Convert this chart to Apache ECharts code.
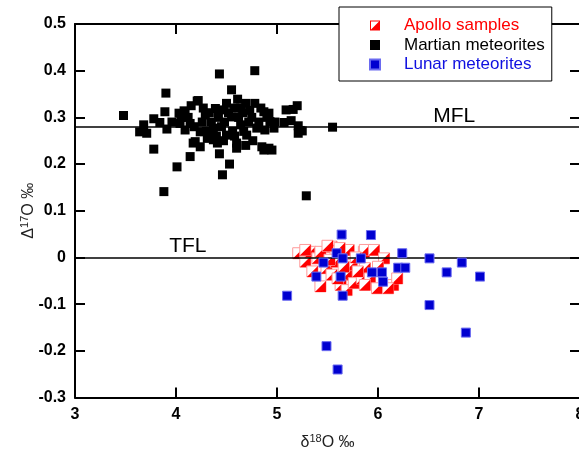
<!DOCTYPE html>
<html><head><meta charset="utf-8">
<script src="https://cdn.jsdelivr.net/npm/echarts@6/dist/echarts.min.js"></script>
<style>html,body{margin:0;padding:0;background:#fff}#c{width:579px;height:450px}</style>
</head><body><div id="c"></div>
<script>
const xTicks = [3, 4, 5, 6, 7, 8];
const yTicks = [-0.3, -0.2, -0.1, 0, 0.1, 0.2, 0.3, 0.4, 0.5];
const seriesNames = ['Apollo samples', 'Martian meteorites', 'Lunar meteorites'];
const refLines = [['MFL', 0.282], ['TFL', 0]];
const refLabels = [[6.755, 0.303, 'MFL'], [4.117, 0.025, 'TFL']];

const martian = [
[3.48,0.304],[4.43,0.393],[4.78,0.400],[3.90,0.352],[4.55,0.359],[4.61,0.339],[4.22,0.336],[3.89,0.312],
[3.68,0.284],[3.64,0.269],[3.71,0.266],[3.78,0.297],[3.91,0.275],[3.78,0.232],[4.14,0.216],[4.01,0.194],
[3.88,0.141],[4.43,0.222],[4.53,0.200],[4.46,0.177],[4.69,0.240],[4.60,0.234],[4.87,0.230],[4.95,0.230],
[5.29,0.132],[5.55,0.279],[5.09,0.316],[5.20,0.325],[5.16,0.317],[5.21,0.282],[5.25,0.271],[5.21,0.266],
[5.07,0.289],[5.14,0.293],[4.17,0.245],[4.24,0.237],[4.31,0.255],[4.37,0.252],[4.21,0.335],[4.08,0.314],
[4.39,0.319],[4.47,0.316],[4.69,0.330],[4.78,0.330],[4.87,0.312],[4.29,0.305],[4.55,0.301],[4.14,0.287],
[4.64,0.284],[4.37,0.277],[4.80,0.277],[4.24,0.269],[4.50,0.262],[4.70,0.262],[4.19,0.248],[4.41,0.245],
[4.60,0.245],[4.85,0.237],[3.84,0.289],[4.03,0.309],[4.09,0.312],[4.04,0.287],[4.09,0.273],[4.92,0.309],
[4.93,0.291],[4.88,0.273],[4.97,0.277],[5.23,0.272],[4.92,0.234],
[4.12,0.300],[4.18,0.280],[4.26,0.290],[4.33,0.310],[4.35,0.290],[4.42,0.300],[4.45,0.280],[4.48,0.290],
[4.52,0.310],[4.58,0.320],[4.62,0.300],[4.66,0.310],[4.72,0.290],[4.75,0.300],[4.82,0.290],[4.84,0.320],
[4.90,0.300],[4.98,0.290],[4.30,0.270],[4.40,0.260],[4.56,0.270],[4.67,0.270],[4.76,0.250],[4.27,0.320],
[4.50,0.330],[4.64,0.320],[4.73,0.315],[4.05,0.300],[3.96,0.290],[4.15,0.325],[4.35,0.265],[4.47,0.250],
[4.58,0.260]
];

const apollo = [
[5.21,0.009],[5.28,-0.009],[5.33,0.012],[5.40,-0.002],[5.43,0.012],[5.54,0.023],[5.58,0.012],[5.49,-0.023],
[5.54,-0.037],[5.69,-0.037],[5.63,-0.059],[5.43,-0.062],[5.69,-0.070],[5.76,-0.055],[5.84,-0.045],[5.86,0.012],
[5.71,0.016],[5.74,-0.016],[5.28,0.016],[5.58,-0.009],[5.87,0.016],[5.96,0.016],[6.06,-0.002],[5.87,-0.023],
[5.92,-0.045],[5.87,-0.059],[5.99,-0.066],[6.15,-0.059],[6.19,-0.045],[6.10,-0.066],[5.62,0.020],[5.52,-0.005],
[5.66,-0.020],[5.80,-0.030],[5.35,-0.030],[5.60,-0.045],[5.78,0.000],[6.00,-0.020],[5.50,0.025]
];

const lunar = [
[5.64,0.049],[5.93,0.048],[5.59,0.009],[5.65,-0.002],[5.46,-0.011],[5.83,-0.002],[6.24,0.009],[6.51,-0.002],
[6.83,-0.011],[6.68,-0.032],[7.01,-0.041],[6.51,-0.102],[6.87,-0.161],[5.39,-0.041],[5.63,-0.041],[5.94,-0.032],
[6.04,-0.032],[6.20,-0.022],[6.27,-0.022],[6.05,-0.052],[5.65,-0.082],[5.10,-0.082],[5.49,-0.190],[5.60,-0.240]
];

const chart = echarts.init(document.getElementById('c'), null, {renderer: 'canvas'});
const FONT = 'Liberation Sans, Arial, sans-serif';
const sq = 'path://M0,0H10V10H0Z';
const apolloIcon = 'path://M0,0H10V10H0Z M1,1V9H9V1Z M10,0V10H0Z';
const fmt = v => { const r = Math.round(v * 10) / 10; return r === 0 ? '0' : String(r); };
const axisLine = {show: true, onZero: false, lineStyle: {color: '#000', width: 2}};
const tick = {show: true, inside: true, length: 10, lineStyle: {color: '#000', width: 2}};
const nameRich = {a: {fontFamily: FONT, fontSize: 16, color: '#222'}, s: {fontFamily: FONT, fontSize: 11, color: '#222', padding: [0, 0, 8, 0]}};

chart.setOption({
  animation: false,
  backgroundColor: '#fff',
  grid: {left: 75, width: 505, top: 24, height: 373.5, containLabel: false, outerBoundsMode: 'none'},
  legend: {
    orient: 'vertical', left: 339, top: 7, z: 20,
    backgroundColor: '#fff', borderColor: '#000', borderWidth: 1,
    padding: [10, 7, 8, 30], itemWidth: 48, itemHeight: 10, itemGap: 2.5, symbolKeepAspect: true,
    textStyle: {fontFamily: FONT, fontSize: 17},
    data: [
      {name: seriesNames[0], icon: apolloIcon, textStyle: {color: '#ff0000'}, itemStyle: {color: '#ff0000', opacity: 1}},
      {name: seriesNames[1], icon: sq, textStyle: {color: '#000'}, itemStyle: {opacity: 1}},
      {name: seriesNames[2], icon: sq, textStyle: {color: '#1010e0'}, itemStyle: {opacity: 1}}
    ]
  },
  xAxis: [{
    type: 'value', min: xTicks[0], max: xTicks[xTicks.length - 1], interval: 1,
    axisLine: axisLine, axisTick: tick, splitLine: {show: false},
    axisLabel: {color: '#000', fontFamily: FONT, fontSize: 16, fontWeight: 'bold', margin: 9},
    name: '{a|δ}{s|18}{a|O ‰}', nameLocation: 'middle', nameGap: 36, nameMoveOverlap: false,
    nameTextStyle: {rich: nameRich}
  }, {
    type: 'value', position: 'top', min: xTicks[0], max: xTicks[xTicks.length - 1], interval: 1,
    axisLine: axisLine, axisTick: tick, axisLabel: {show: false}, splitLine: {show: false}
  }],
  yAxis: [{
    type: 'value', min: yTicks[0], max: yTicks[yTicks.length - 1], interval: 0.1,
    axisLine: axisLine, axisTick: tick, splitLine: {show: false},
    axisLabel: {color: '#000', fontFamily: FONT, fontSize: 16, fontWeight: 'bold', margin: 9, formatter: fmt},
    name: '{a|Δ}{s|17}{a|O ‰}', nameLocation: 'middle', nameGap: 37, nameRotate: 90, nameMoveOverlap: false,
    nameTextStyle: {rich: nameRich}
  }, {
    type: 'value', position: 'right', min: yTicks[0], max: yTicks[yTicks.length - 1], interval: 0.1,
    axisLine: axisLine, axisTick: tick, axisLabel: {show: false}, splitLine: {show: false}
  }],
  series: [
    {
      name: seriesNames[1], type: 'scatter', data: martian, symbol: 'rect', symbolSize: 9,
      itemStyle: {color: '#000', opacity: 1}, z: 3, emphasis: {disabled: true},
      markLine: {
        silent: true, symbol: 'none', label: {show: false},
        lineStyle: {color: '#000', width: 1.5, type: 'solid', opacity: 1},
        data: refLines.map(r => ({name: r[0], yAxis: r[1]}))
      }
    },
    {
      name: seriesNames[0], type: 'custom', data: apollo, z: 4,
      itemStyle: {color: '#ff0000'},
      renderItem: function (params, api) {
        const p = api.coord([api.value(0), api.value(1)]);
        const h = 5.5;
        return {
          type: 'group',
          children: [
            {type: 'rect', shape: {x: p[0] - h, y: p[1] - h, width: 2 * h, height: 2 * h},
             style: {fill: '#fff', stroke: '#ff9a9a', lineWidth: 1}},
            {type: 'polygon', shape: {points: [[p[0] + h, p[1] - h], [p[0] + h, p[1] + h], [p[0] - h, p[1] + h]]},
             style: {fill: '#ff0000'}}
          ]
        };
      }
    },
    {
      name: seriesNames[2], type: 'scatter', data: lunar, symbol: 'rect', symbolSize: 9, emphasis: {disabled: true},
      itemStyle: {color: '#0000d0', borderColor: '#6a6af0', borderWidth: 1, opacity: 1}, z: 5
    },
    {
      name: 'refLabels', type: 'scatter', data: refLabels, symbolSize: 0, z: 6, silent: true,
      itemStyle: {opacity: 1},
      label: {show: true, position: 'inside', formatter: p => p.value[2], fontFamily: FONT, fontSize: 21, color: '#000', opacity: 1}
    }
  ]
});
</script></body></html>
